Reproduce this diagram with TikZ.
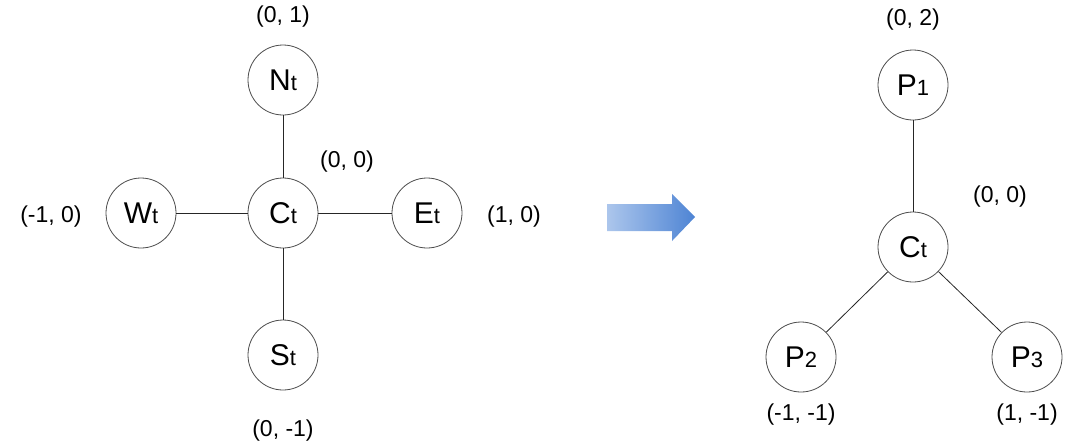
\documentclass[tikz,border=0pt]{standalone}
\usepackage{fontspec}
\setmainfont{Liberation Sans}
\definecolor{arrlight}{RGB}{172,198,236}
\definecolor{arrdark}{RGB}{78,132,212}
\newcommand{\cell}[2]{{\fontsize{15}{15}\selectfont #1}{\fontsize{11}{11}\selectfont #2}}
\tikzset{
  cellnode/.style = {circle, draw = black!70, line width = 0.4pt, minimum size = 35pt, inner sep = 0pt},
  coordlbl/.style = {font = \fontsize{11.5}{11.5}\selectfont},
  link/.style = {black!85, line width = 0.4pt}
}

\begin{document}
\begin{tikzpicture}[x = 0.5pt, y = -0.5pt]
\useasboundingbox (0,0) rectangle (1080,446);
% four neighbours
\node[cellnode] (Ct) at (283,213) {\cell{C}{t}};
\node[cellnode] (Nt) at (283,80) {\cell{N}{t}};
\node[cellnode] (St) at (283,355) {\cell{S}{t}};
\node[cellnode] (Wt) at (141,213) {\cell{W}{t}};
\node[cellnode] (Et) at (427,213) {\cell{E}{t}};
\draw[link] (Ct) -- (Nt);
\draw[link] (Ct) -- (St);
\draw[link] (Ct) -- (Wt);
\draw[link] (Ct) -- (Et);
\node[coordlbl] (nlbl) at (283,17) {(0, 1)};
\node[coordlbl] (clbl) at (347,162) {(0, 0)};
\node[coordlbl] (wlbl) at (51,217) {(-1, 0)};
\node[coordlbl] (elbl) at (514,217) {(1, 0)};
\node[coordlbl] (slbl) at (283,431) {(0, -1)};
% arrow
\shade[left color = arrlight, right color = arrdark]
  (607,204) -- (672,204) -- (672,194) -- (695,217) -- (672,241) -- (672,231) -- (607,231) -- cycle;
% three points
\begin{scope}
\node[cellnode] (Cr) at (913,247) {\cell{C}{t}};
\node[cellnode] (P1) at (913,85) {\cell{P}{1}};
\node[cellnode] (P2) at (801,357) {\cell{P}{2}};
\node[cellnode] (P3) at (1027,357) {\cell{P}{3}};
\draw[link] (Cr) -- (P1);
\draw[link] (Cr) -- (P2);
\draw[link] (Cr) -- (P3);
\node[coordlbl] (p1lbl) at (913,20) {(0, 2)};
\node[coordlbl] (crlbl) at (1000,197) {(0, 0)};
\node[coordlbl] (p2lbl) at (801,415) {(-1, -1)};
\node[coordlbl] (p3lbl) at (1027,415) {(1, -1)};
\end{scope}
\end{tikzpicture}
\end{document}
